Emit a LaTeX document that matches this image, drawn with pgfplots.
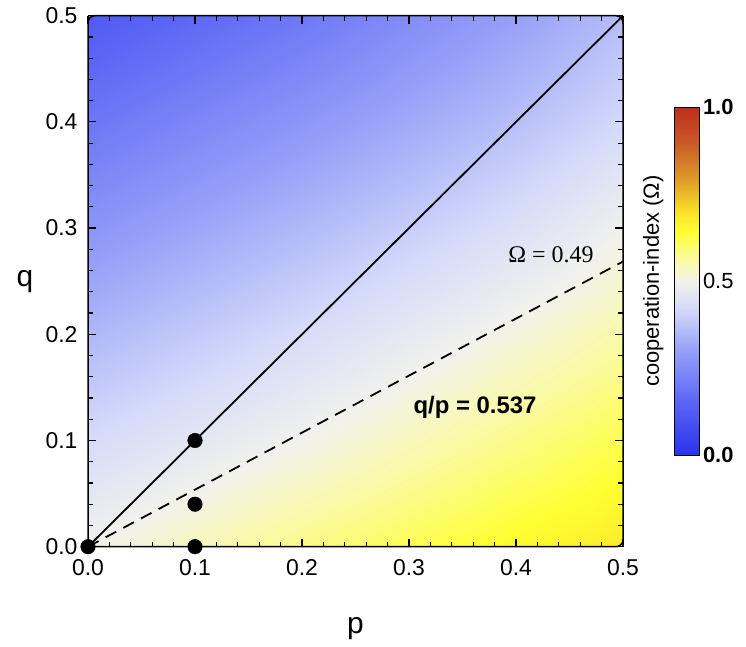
\documentclass[border=0pt]{standalone}
\usepackage{pgfplots}
\pgfplotsset{compat=1.18}
\usepackage{fontspec}
\setmainfont{Liberation Sans}
\newfontfamily\seriffont{Liberation Serif}
\pgfplotstableread{
x y c
0.0 0.0 0.500
0.1 0.0 0.540
0.2 0.0 0.580
0.3 0.0 0.615
0.4 0.0 0.650
0.5 0.0 0.680
0.0 0.1 0.424
0.1 0.1 0.462
0.2 0.1 0.500
0.3 0.1 0.540
0.4 0.1 0.580
0.5 0.1 0.620
0.0 0.2 0.348
0.1 0.2 0.388
0.2 0.2 0.428
0.3 0.2 0.470
0.4 0.2 0.512
0.5 0.2 0.555
0.0 0.3 0.272
0.1 0.3 0.312
0.2 0.3 0.352
0.3 0.3 0.395
0.4 0.3 0.440
0.5 0.3 0.495
0.0 0.4 0.196
0.1 0.4 0.236
0.2 0.4 0.276
0.3 0.4 0.320
0.4 0.4 0.365
0.5 0.4 0.420
0.0 0.5 0.120
0.1 0.5 0.160
0.2 0.5 0.200
0.3 0.5 0.250
0.4 0.5 0.300
0.5 0.5 0.360
}\omegagrid
\begin{document}
\begin{tikzpicture}
\useasboundingbox (0,0) rectangle (746bp,647bp);
\begin{axis}[
  at={(88bp,100.3bp)}, anchor=south west,
  scale only axis, width=535bp, height=531bp,
  xmin=0, xmax=0.5, ymin=0, ymax=0.5,
  xtick={0,0.1,0.2,0.3,0.4,0.5}, ytick={0,0.1,0.2,0.3,0.4,0.5},
  minor tick num=4,
  tick align=inside,
  major tick length=8bp, minor tick length=5bp,
  tick style={black, line width=1.2bp},
  /pgf/number format/assume math mode=true,
  xticklabel style={/pgf/number format/fixed, /pgf/number format/fixed zerofill, /pgf/number format/precision=1, font=\fontsize{23}{27}\selectfont, yshift=-9bp},
  yticklabel style={/pgf/number format/fixed, /pgf/number format/fixed zerofill, /pgf/number format/precision=1, font=\fontsize{23}{27}\selectfont, xshift=-7bp},
  xlabel={p}, ylabel={q},
  xlabel style={font=\fontsize{30}{34}\selectfont, at={(axis description cs:0.5,-0.155)}, anchor=center},
  ylabel style={font=\fontsize{30}{34}\selectfont, at={(axis description cs:-0.118,0.5)}, anchor=center, rotate=-90},
  axis line style={line width=1.5bp, rounded corners=7bp},
  colormap={coop}{rgb255(0cm)=(40,50,235); rgb255(1.5cm)=(90,100,245); rgb255(3cm)=(150,160,248); rgb255(4.2cm)=(212,218,250); rgb255(5cm)=(242,242,236); rgb255(5.6cm)=(250,250,165); rgb255(6.4cm)=(255,255,50); rgb255(7cm)=(250,225,40); rgb255(8cm)=(220,150,40); rgb255(9cm)=(200,90,40); rgb255(10cm)=(190,45,30)},
  point meta min=0, point meta max=1,
  colorbar,
  colorbar/width=25bp,
  colorbar style={
    at={(parent axis.east)}, anchor=west, xshift=43bp,
    scale only axis, width=25bp, height=348bp,
    ytick={0,0.5,1}, yticklabels={\textbf{0.0},0.5,\textbf{1.0}},
    major tick length=0pt,
    yticklabel style={font=\fontsize{22}{26}\selectfont},
    ylabel={cooperation-index (Ω)},
    ylabel style={font=\fontsize{22}{26}\selectfont, at={(axis description cs:-0.85,0.5)}, anchor=center},
    axis line style={line width=1.2bp},
  },
  clip=false,
  axis on top,
]
\addplot[surf, shader=interp, mesh/cols=6, point meta=explicit] table[x=x, y=y, meta=c] {\omegagrid};
\addplot[black, line width=1.8bp] coordinates {(0,0) (0.5,0.5)};
\addplot[black, line width=1.8bp, dash pattern=on 12bp off 8bp] coordinates {(0,0) (0.5,0.2685)};
\addplot[only marks, mark=*, mark size=7.3bp, black] coordinates {(0,0) (0.1,0.1) (0.1,0.04) (0.1,0)};
\node[font=\seriffont\fontsize{24}{28}\selectfont] at (axis cs:0.4327,0.2747) {Ω = 0.49};
\node[font=\bfseries\fontsize{24}{28}\selectfont] at (axis cs:0.3617,0.1315) {q/p = 0.537};
\end{axis}
\end{tikzpicture}
\end{document}
